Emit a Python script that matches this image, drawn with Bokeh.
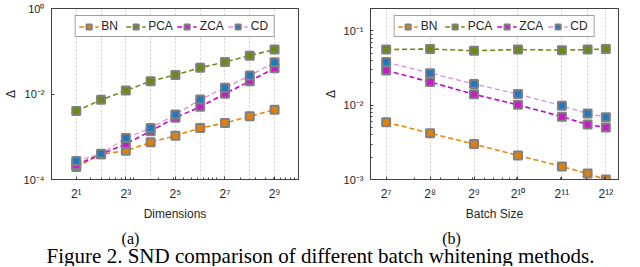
from bokeh.plotting import figure
from bokeh.models import FixedTicker, Label, Range1d
from bokeh.layouts import column, row
from bokeh.embed import file_html
from bokeh.resources import INLINE

# ---------------- data ----------------
methods = ["BN", "PCA", "ZCA", "CD"]

dims = [2, 4, 8, 16, 32, 64, 128, 256, 512]
bn_dim = [0.000195, 0.00039, 0.00047, 0.00074, 0.00106, 0.0016, 0.0021, 0.0030, 0.0043]
pca_dim = [0.0040, 0.0073, 0.012, 0.020, 0.028, 0.041, 0.056, 0.079, 0.11]
zca_dim = [0.00022, 0.00039, 0.00068, 0.00135, 0.0028, 0.0050, 0.0102, 0.020, 0.040]
cd_dim = [0.00027, 0.00040, 0.00093, 0.0016, 0.0033, 0.0074, 0.014, 0.027, 0.055]

batch = [128, 256, 512, 1024, 2048, 3072, 4096]
bn_bs = [0.0059, 0.0042, 0.0030, 0.0021, 0.0015, 0.0012, 0.0010]
pca_bs = [0.056, 0.057, 0.054, 0.056, 0.055, 0.056, 0.057]
zca_bs = [0.0293, 0.0205, 0.0140, 0.0101, 0.0070, 0.0055, 0.0050]
cd_bs = [0.038, 0.027, 0.0193, 0.0141, 0.0098, 0.0077, 0.0069]

dim_ticks = [2, 8, 32, 128, 512]
dim_tick_labels = ["2\u00b9", "2\u00b3", "2\u2075", "2\u2077", "2\u2079"]
dim_yticks = [1e-4, 1e-2, 1]
dim_ytick_labels = ["10\u207b\u2074", "10\u207b\u00b2", "10\u2070"]

bs_ticks = [128, 256, 512, 1024, 2048, 4096]
bs_tick_labels = ["2\u2077", "2\u2078", "2\u2079", "2\u00b9\u2070", "2\u00b9\u00b9", "2\u00b9\u00b2"]
bs_yticks = [1e-3, 1e-2, 1e-1]
bs_ytick_labels = ["10\u207b\u00b3", "10\u207b\u00b2", "10\u207b\u00b9"]

caption_a = "(a)"
caption_b = "(b)"
caption = "Figure 2. SND comparison of different batch whitening methods."

# ---------------- style ----------------
line_colors = ["#E8870E", "#6F8C16", "#CC00CC", "#D892D8"]
fill_colors = ["#E0800A", "#6B8A14", "#C81AC8", "#1F78C1"]
line_widths = [1.6, 1.6, 1.6, 1.3]
EDGE = "#808080"
AX = "#404040"
TXT = "#262626"
SANS = "Liberation Sans"
SERIF = "Liberation Serif"


def minor_list(lo, hi):
    out = []
    d = 1e-6
    while d < hi * 10:
        for k in range(1, 10):
            v = k * d
            if lo <= v <= hi:
                out.append(v)
        d *= 10
    return out


def style_axis(ax, ticks, labels, minors, size, standoff, label_standoff):
    ax.ticker = FixedTicker(ticks=ticks, minor_ticks=minors)
    ax.major_label_overrides = {t: l for t, l in zip(ticks, labels)}
    ax.axis_line_color = AX
    ax.major_tick_line_color = AX
    ax.minor_tick_line_color = AX
    ax.major_tick_in = 3
    ax.major_tick_out = 0
    ax.minor_tick_in = 2
    ax.minor_tick_out = 0
    ax.major_label_text_font = SANS
    ax.major_label_text_font_size = size
    ax.major_label_text_color = TXT
    ax.major_label_standoff = standoff
    ax.axis_label_text_font = SANS
    ax.axis_label_text_font_style = "normal"
    ax.axis_label_text_font_size = "12px"
    ax.axis_label_text_color = TXT
    ax.axis_label_standoff = label_standoff


def make_plot(x, series, xr, yr, xticks, xlabels, yticks, ylabels, grid_ticks,
              xlabel, y_minor, width, br):
    p = figure(width=width, height=223, x_axis_type="log", y_axis_type="log",
               x_range=Range1d(*xr), y_range=Range1d(*yr),
               output_backend="svg", toolbar_location=None,
               min_border_left=45, min_border_right=br,
               min_border_top=8, min_border_bottom=41)
    p.outline_line_color = AX
    p.outline_line_width = 1
    p.ygrid.visible = False
    p.xgrid.ticker = FixedTicker(ticks=grid_ticks)
    p.xgrid.grid_line_color = "#cfcfcf"
    p.xgrid.grid_line_dash = "2 2"
    p.xgrid.grid_line_width = 1

    style_axis(p.xaxis[0], xticks, xlabels, minor_list(xr[0], xr[1]), "12px", 7, 3)
    style_axis(p.yaxis[0], yticks, ylabels, minor_list(yr[0], yr[1]) if y_minor else [],
               "11px", 7, 3)
    p.xaxis[0].axis_label = xlabel
    p.yaxis[0].axis_label = "\u0394"

    for name, ys, lc, fc, lw in zip(methods, series, line_colors, fill_colors, line_widths):
        p.line(x, ys, line_color=lc, line_dash="5 3", line_width=lw, legend_label=name)
        p.scatter(x, ys, marker="square", size=8, fill_color=fc, line_color=EDGE,
                  line_width=2, legend_label=name)

    lg = p.legend[0]
    lg.orientation = "horizontal"
    lg.location = "top_center"
    lg.margin = 7
    lg.padding = 3
    lg.spacing = 4
    lg.glyph_width = 20
    lg.glyph_height = 13
    lg.label_standoff = 3
    lg.label_text_font = SANS
    lg.label_text_font_size = "12px"
    lg.label_text_color = TXT
    lg.label_height = 13
    lg.border_line_color = AX
    lg.border_line_width = 1
    lg.background_fill_alpha = 1
    return p


p1 = make_plot(dims, [bn_dim, pca_dim, zca_dim, cd_dim], (1, 1000), (1e-4, 1),
               dim_ticks, dim_tick_labels, dim_yticks, dim_ytick_labels, dims,
               "Dimensions", False, 320, 22)
p2 = make_plot(batch, [bn_bs, pca_bs, zca_bs, cd_bs], (100, 5000), (1e-3, 0.2),
               bs_ticks, bs_tick_labels, bs_yticks, bs_ytick_labels, batch,
               "Batch Size", True, 318, 20)

cap = figure(width=638, height=43, x_range=Range1d(0, 638), y_range=Range1d(0, 43),
             output_backend="svg", toolbar_location=None, min_border=0,
             x_axis_location=None, y_axis_location=None)
cap.outline_line_color = None
cap.grid.visible = False
cap.add_layout(Label(x=130, y=28, text=caption_a, text_align="center", text_baseline="alphabetic",
                     text_font=SERIF, text_font_size="16px", text_color="black"))
cap.add_layout(Label(x=451, y=28, text=caption_b, text_align="center", text_baseline="alphabetic",
                     text_font=SERIF, text_font_size="16px", text_color="black"))
cap.add_layout(Label(x=320, y=11, text=caption, text_align="center", text_baseline="alphabetic",
                     text_font=SERIF, text_font_size="21px", text_color="black"))

layout = column(row(p1, p2), cap)
open("out.html", "w").write(file_html(layout, INLINE))
